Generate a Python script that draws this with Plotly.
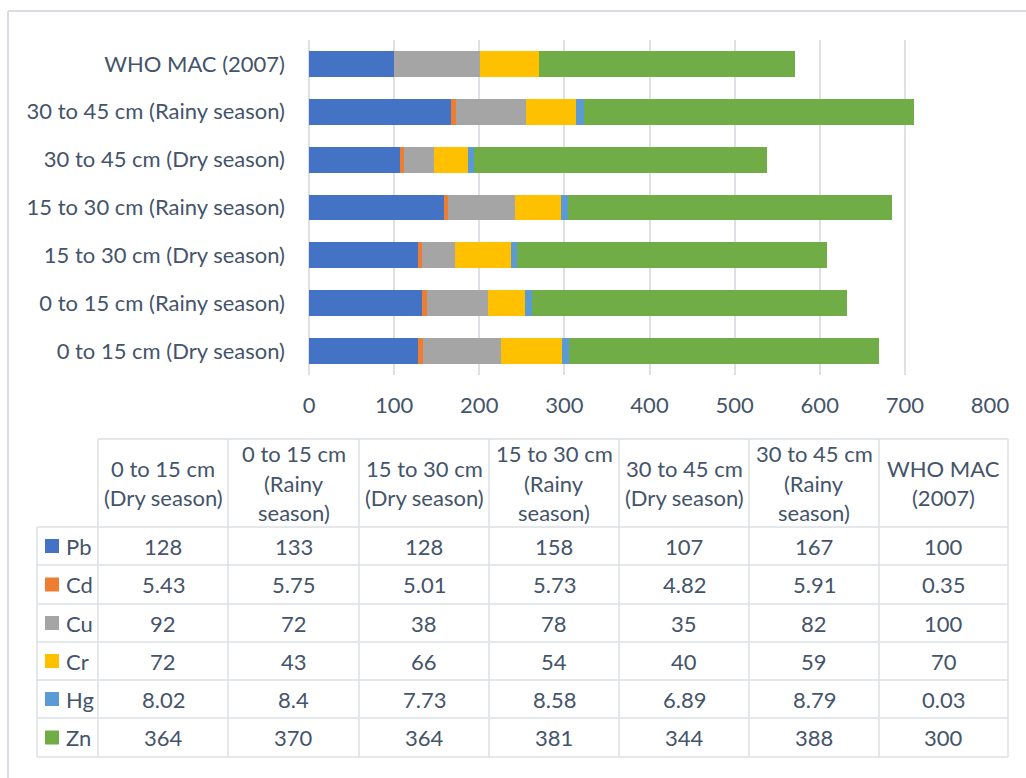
import plotly.graph_objects as go

# ---------------- data ----------------
categories = [
    "0 to 15 cm (Dry season)",
    "0 to 15 cm (Rainy season)",
    "15 to 30 cm (Dry season)",
    "15 to 30 cm (Rainy season)",
    "30 to 45 cm (Dry season)",
    "30 to 45 cm (Rainy season)",
    "WHO MAC (2007)",
]
header_lines = [
    ["0 to 15 cm", "(Dry season)"],
    ["0 to 15 cm", "(Rainy", "season)"],
    ["15 to 30 cm", "(Dry season)"],
    ["15 to 30 cm", "(Rainy", "season)"],
    ["30 to 45 cm", "(Dry season)"],
    ["30 to 45 cm", "(Rainy", "season)"],
    ["WHO MAC", "(2007)"],
]
series_names = ["Pb", "Cd", "Cu", "Cr", "Hg", "Zn"]
Pb = [128, 133, 128, 158, 107, 167, 100]
Cd = [5.43, 5.75, 5.01, 5.73, 4.82, 5.91, 0.35]
Cu = [92, 72, 38, 78, 35, 82, 100]
Cr = [72, 43, 66, 54, 40, 59, 70]
Hg = [8.02, 8.4, 7.73, 8.58, 6.89, 8.79, 0.03]
Zn = [364, 370, 364, 381, 344, 388, 300]
series_values = [Pb, Cd, Cu, Cr, Hg, Zn]
x_ticks = [0, 100, 200, 300, 400, 500, 600, 700, 800]

# ---------------- style ----------------
colors = ["#4472C4", "#ED7D31", "#A5A5A5", "#FFC000", "#5B9BD5", "#70AD47"]
W, H = 1026, 778
FONT = "Lato"
FS = 22
TXT = "#44546A"
GRID = "#DDE1E6"


def px(x):
    return x / W


def py(y):
    return 1 - y / H


fig = go.Figure()
for name, vals, col in zip(series_names, series_values, colors):
    fig.add_trace(go.Bar(
        y=categories, x=vals, name=name, orientation="h",
        marker=dict(color=col, line=dict(width=0)),
        showlegend=False,
    ))

shapes = []
annotations = []

# outer chart border (top and left)
shapes.append(dict(type="line", xref="paper", yref="paper",
                   x0=px(8), x1=px(1030), y0=py(11), y1=py(11),
                   line=dict(color="#D9DDE3", width=2)))
shapes.append(dict(type="line", xref="paper", yref="paper",
                   x0=px(8), x1=px(8), y0=py(11), y1=py(780),
                   line=dict(color="#D9DDE3", width=2)))

# ---------------- data table ----------------
col_edges = [98, 228, 359, 489, 619, 749, 879, 1008]
legend_left = 37
head_top = 439
row_edges = [527, 565, 604, 642, 680, 718, 757]
LC = "#DCE0E5"
LW = 1.5

shapes.append(dict(type="line", xref="paper", yref="paper",
                   x0=px(col_edges[0]), x1=px(col_edges[-1]), y0=py(head_top), y1=py(head_top),
                   line=dict(color=LC, width=LW)))
for r in row_edges:
    shapes.append(dict(type="line", xref="paper", yref="paper",
                       x0=px(legend_left), x1=px(col_edges[-1]), y0=py(r), y1=py(r),
                       line=dict(color=LC, width=LW)))
for c in col_edges:
    shapes.append(dict(type="line", xref="paper", yref="paper",
                       x0=px(c), x1=px(c), y0=py(head_top), y1=py(row_edges[-1]),
                       line=dict(color=LC, width=LW)))
shapes.append(dict(type="line", xref="paper", yref="paper",
                   x0=px(legend_left), x1=px(legend_left), y0=py(row_edges[0]), y1=py(row_edges[-1]),
                   line=dict(color=LC, width=LW)))

line_gap = 29.5
head_mid = (head_top + row_edges[0]) / 2
for j, lines in enumerate(header_lines):
    cx = (col_edges[j] + col_edges[j + 1]) / 2
    n = len(lines)
    for k, t in enumerate(lines):
        yy = head_mid + (k - (n - 1) / 2) * line_gap
        annotations.append(dict(xref="paper", yref="paper", x=px(cx), y=py(yy),
                                text=t, showarrow=False, xanchor="center", yanchor="middle",
                                font=dict(family=FONT, size=FS, color=TXT)))

for i, (name, vals, col) in enumerate(zip(series_names, series_values, colors)):
    cy = (row_edges[i] + row_edges[i + 1]) / 2
    shapes.append(dict(type="rect", xref="paper", yref="paper",
                       x0=px(45), x1=px(59), y0=py(cy - 7), y1=py(cy + 7),
                       fillcolor=col, line=dict(width=0)))
    annotations.append(dict(xref="paper", yref="paper", x=px(64), y=py(cy),
                            text=name, showarrow=False, xanchor="left", yanchor="middle",
                            font=dict(family=FONT, size=FS, color=TXT)))
    for j, v in enumerate(vals):
        cx = (col_edges[j] + col_edges[j + 1]) / 2
        annotations.append(dict(xref="paper", yref="paper", x=px(cx), y=py(cy),
                                text=f"{v:g}", showarrow=False, xanchor="center", yanchor="middle",
                                font=dict(family=FONT, size=FS, color=TXT)))

fig.update_layout(
    width=W, height=H, autosize=False,
    margin=dict(l=0, r=0, t=0, b=0, pad=0),
    paper_bgcolor="white", plot_bgcolor="white",
    barmode="stack", bargap=0.46,
    font=dict(family=FONT, size=FS, color=TXT),
    xaxis=dict(domain=[px(309), px(990)], range=[0, 800], tickvals=x_ticks,
               showgrid=True, gridcolor=GRID, gridwidth=2,
               zeroline=True, zerolinecolor=GRID, zerolinewidth=2,
               showline=False, ticks="", ticklabelstandoff=15, automargin=False,
               tickfont=dict(family=FONT, size=FS, color=TXT), fixedrange=True),
    yaxis=dict(domain=[py(375), py(40)], range=[-0.5, 6.5], type="category",
               categoryorder="array", categoryarray=categories,
               showgrid=False, showline=False, ticks="", ticklabelstandoff=23, automargin=False,
               tickfont=dict(family=FONT, size=FS, color=TXT), fixedrange=True),
    shapes=shapes,
    annotations=annotations,
)

page_js = "document.body.style.margin='0';document.body.style.padding='0';document.documentElement.style.overflow='hidden';"
fig.write_html("out.html", post_script=page_js)
